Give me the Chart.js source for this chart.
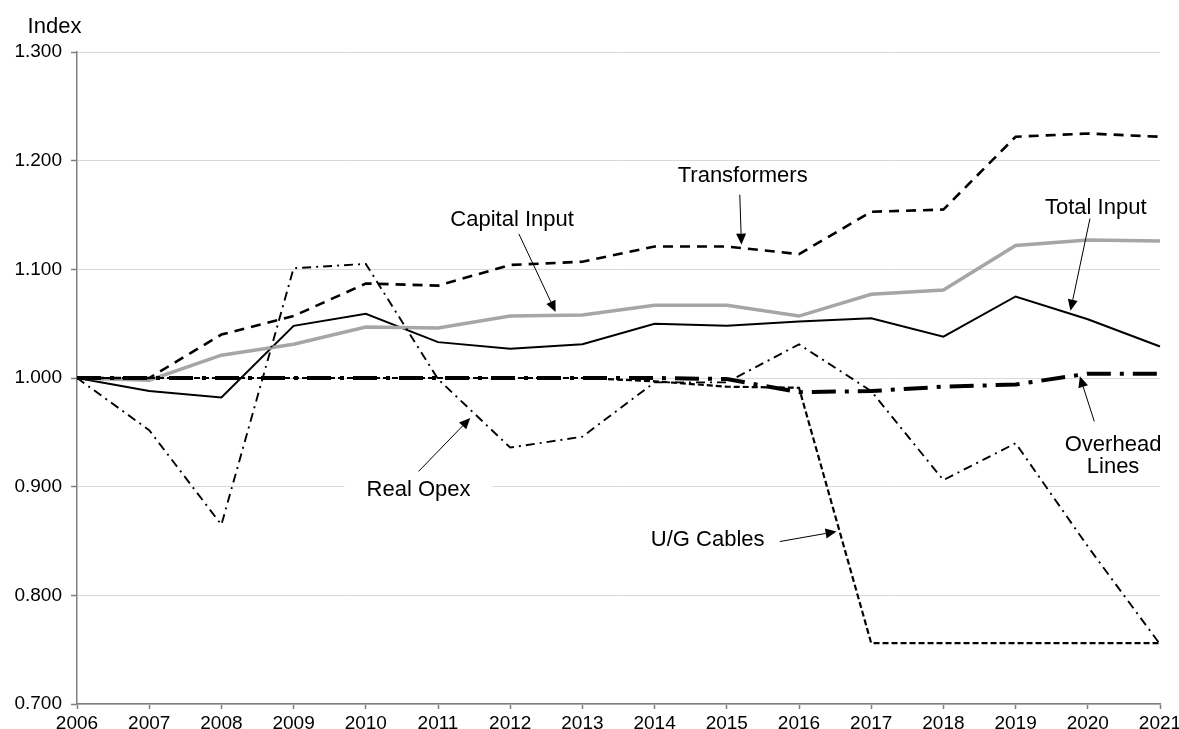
<!DOCTYPE html>
<html>
<head>
<meta charset="utf-8">
<script src="https://cdn.jsdelivr.net/npm/chart.js@4/dist/chart.umd.min.js"></script>
<style>
  html, body { margin: 0; padding: 0; background: #ffffff; }
  #wrap { width: 1179px; height: 729px; position: relative; }
</style>
</head>
<body>
<div id="wrap"><canvas id="c" width="1179" height="729"></canvas></div>
<script>
// ---- data ----
const years = ['2006','2007','2008','2009','2010','2011','2012','2013','2014','2015','2016','2017','2018','2019','2020','2021'];
const transformers = [1.000,1.000,1.040,1.057,1.087,1.085,1.104,1.107,1.121,1.121,1.114,1.153,1.155,1.222,1.225,1.222];
const capitalInput = [1.000,0.998,1.021,1.031,1.047,1.046,1.057,1.058,1.067,1.067,1.057,1.077,1.081,1.122,1.127,1.126];
const totalInput   = [1.000,0.988,0.982,1.048,1.059,1.033,1.027,1.031,1.050,1.048,1.052,1.055,1.038,1.075,1.054,1.029];
const realOpex     = [1.000,0.952,0.865,1.101,1.105,0.999,0.936,0.946,0.996,0.996,1.031,0.988,0.906,0.940,0.845,0.755];
const overheadLines= [1.000,1.000,1.000,1.000,1.000,1.000,1.000,1.000,1.000,0.999,0.987,0.988,0.992,0.994,1.004,1.004];
const ugCables     = [1.000,1.000,1.000,1.000,1.000,1.000,1.000,1.000,0.997,0.992,0.991,0.756,0.756,0.756,0.756,0.756];
const yTicks = [0.7,0.8,0.9,1.0,1.1,1.2,1.3];

const FONT = "'Liberation Sans', Arial, Helvetica, sans-serif";

// annotation labels: text lines, label centre and arrow (in data coordinates: category index, value)
const annotations = [
  { lines:['Transformers'], x:9.22, y:1.1863, from:[9.18,1.1687], to:[9.203,1.1227] },
  { lines:['Capital Input'], x:6.026, y:1.1451, from:[6.12,1.1326], to:[6.629,1.0608] },
  { lines:['Total Input'], x:14.11, y:1.1568, from:[14.03,1.1467], to:[13.76,1.062] },
  { lines:['Real Opex'], x:4.73, y:0.8972, from:[4.73,0.914], to:[5.447,0.9632], bg:true },
  { lines:['U/G Cables'], x:8.735, y:0.8511, from:[9.734,0.8495], to:[10.52,0.8587] },
  { lines:['Overhead','Lines'], x:14.35, y:0.9386, from:[14.09,0.96], to:[13.89,1.0015] }
];

const annotationPlugin = {
  id: 'annot',
  beforeDatasetsDraw(chart) {
    const ctx = chart.ctx, xs = chart.scales.x, ys = chart.scales.y;
    ctx.save();
    ctx.font = '22px ' + FONT;
    annotations.forEach(a => {
      if (!a.bg) return;
      const cx = xs.getPixelForValue(a.x), cy = ys.getPixelForValue(a.y);
      const w = Math.max(...a.lines.map(t => ctx.measureText(t).width));
      ctx.fillStyle = '#ffffff';
      ctx.fillRect(cx - w/2 - 22, cy - 14, w + 44, 28);
    });
    ctx.restore();
  },
  afterDatasetsDraw(chart) {
    const ctx = chart.ctx, xs = chart.scales.x, ys = chart.scales.y;
    ctx.save();
    ctx.font = '22px ' + FONT;
    ctx.fillStyle = '#000000';
    ctx.textAlign = 'center';
    ctx.textBaseline = 'middle';
    annotations.forEach(a => {
      const cx = xs.getPixelForValue(a.x), cy = ys.getPixelForValue(a.y);
      a.lines.forEach((t, i) => ctx.fillText(t, cx, cy + i * 22));
      const x1 = xs.getPixelForValue(a.from[0]), y1 = ys.getPixelForValue(a.from[1]);
      const x2 = xs.getPixelForValue(a.to[0]), y2 = ys.getPixelForValue(a.to[1]);
      const ang = Math.atan2(y2 - y1, x2 - x1);
      const hl = 11, hw = 5;
      ctx.strokeStyle = '#000000';
      ctx.lineWidth = 1;
      ctx.beginPath();
      ctx.moveTo(x1, y1);
      ctx.lineTo(x2 - hl * Math.cos(ang), y2 - hl * Math.sin(ang));
      ctx.stroke();
      ctx.beginPath();
      ctx.moveTo(x2, y2);
      ctx.lineTo(x2 - hl*Math.cos(ang) + hw*Math.sin(ang), y2 - hl*Math.sin(ang) - hw*Math.cos(ang));
      ctx.lineTo(x2 - hl*Math.cos(ang) - hw*Math.sin(ang), y2 - hl*Math.sin(ang) + hw*Math.cos(ang));
      ctx.closePath();
      ctx.fill();
    });
    // axis title
    ctx.font = '22px ' + FONT;
    ctx.textAlign = 'center';
    ctx.textBaseline = 'middle';
    ctx.fillText('Index', 54.5, 27);
    ctx.restore();
  }
};

const mk = (label, data, color, width, dash) => ({
  label, data, borderColor: color, backgroundColor: color, borderWidth: width,
  borderDash: dash, pointRadius: 0, tension: 0, fill: false,
  borderCapStyle: 'butt', borderJoinStyle: 'miter'
});

new Chart(document.getElementById('c'), {
  type: 'line',
  data: {
    labels: years,
    datasets: [
      mk('Real Opex', realOpex, '#000000', 1.9, [9, 5, 2, 5]),
      mk('U/G Cables', ugCables, '#000000', 2.2, [6, 3]),
      mk('Overhead Lines', overheadLines, '#000000', 4, [24, 9, 4, 9]),
      mk('Transformers', transformers, '#000000', 2.6, [10, 7]),
      mk('Capital Input', capitalInput, '#a6a6a6', 3.5, []),
      mk('Total Input', totalInput, '#000000', 2, [])
    ]
  },
  options: {
    responsive: false,
    animation: false,
    devicePixelRatio: 1,
    layout: { padding: { top: 52, left: 0, right: 0, bottom: 0 } },
    plugins: { legend: { display: false }, tooltip: { enabled: false }, title: { display: false } },
    scales: {
      x: {
        type: 'category',
        offset: false,
        grid: { display: true, drawOnChartArea: false, drawTicks: true, tickLength: 5, tickColor: '#7f7f7f', tickWidth: 1.5 },
        border: { display: true, color: '#7f7f7f', width: 1.5 },
        ticks: { color: '#000000', font: { family: FONT, size: 19 }, padding: 3, maxRotation: 0, autoSkip: false },
        afterFit(s) { s.height = 25; s.paddingRight = 19; s.paddingLeft = 0; }
      },
      y: {
        min: 0.7, max: 1.3,
        afterBuildTicks(s) { s.ticks = yTicks.map(v => ({ value: v })); },
        grid: { color: '#d9d9d9', lineWidth: 1, drawTicks: true, tickLength: 6, tickColor: '#7f7f7f', tickWidth: 1.5 },
        border: { display: true, color: '#7f7f7f', width: 1.5 },
        ticks: { color: '#000000', font: { family: FONT, size: 19 }, padding: 9,
                 callback: v => Number(v).toFixed(3) },
        afterFit(s) { s.width = 77; }
      }
    }
  },
  plugins: [annotationPlugin]
});
</script>
</body>
</html>
